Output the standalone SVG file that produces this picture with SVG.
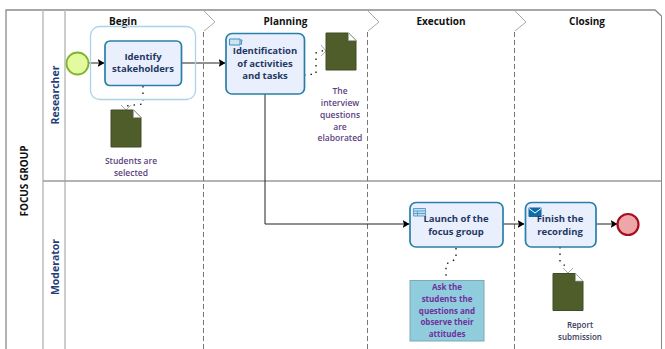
<svg xmlns="http://www.w3.org/2000/svg" width="665" height="349" viewBox="0 0 665 349">
<defs>
<marker id="arr" markerWidth="7" markerHeight="8" refX="6.5" refY="4" orient="auto" markerUnits="userSpaceOnUse"><path d="M0,0 L7,4 L0,8 L1.500,4 Z" fill="#000"/></marker>
<g id="doc"><path d="M0,0 H22.500 L30,7.500 V37 H0 Z" fill="#4f5d2a" stroke="#414d24" stroke-width="1"/><path d="M22.500,0 L30,7.500 H22.500 Z" fill="#fff" stroke="#aaa" stroke-width="0.7"/></g>
</defs>
<style>
text{font-family:"Open Sans","Noto Sans","DejaVu Sans",sans-serif;text-anchor:middle}
.task{fill:#e9effc;stroke:#2a7fa8;stroke-width:1.700}
.tt{font-size:9.500px;font-weight:700;fill:#1f3864}
.ph{font-size:10px;font-weight:700;fill:#111}
.lane{font-size:10.500px;font-weight:700;fill:#1f3f7a}
.note{font-size:8.500px;font-weight:600;fill:#5d3f80}
.ann{font-size:8px;font-weight:700;fill:#7030a0}
.rep{font-size:8px;font-weight:600;fill:#3c3c5a}
.grid{stroke:#bdbdbd;stroke-width:1.500;fill:none}
.flow{stroke:#222;stroke-width:1;fill:none;marker-end:url(#arr)}
.assoc{stroke:#111;stroke-width:1.300;fill:none;stroke-dasharray:1.500 5}
.phase{stroke:#777;stroke-width:1;fill:none;stroke-dasharray:5 3}
.chev{stroke:#aaa;stroke-width:1;fill:none}
</style>
<rect width="665" height="349" fill="#fff"/>
<g id="pool">
<path d="M6,349 V10 H655 L661.500,16" fill="none" stroke="#8a8a8a" stroke-width="1.300"/>
<path d="M43,10 V349 M65,10 V349" class="grid"/>
<path d="M43,181 H661" stroke="#9a9a9a" stroke-width="1.300"/>
<text transform="translate(28,181) rotate(-90)" font-size="10" font-weight="700" fill="#111">FOCUS GROUP</text>
<text class="lane" transform="translate(58.500,95) rotate(-90)">Researcher</text>
<text class="lane" transform="translate(58.500,267) rotate(-90)">Moderator</text>
</g>
<g id="phases">
<path class="chev" d="M203,10 L215,22 L204,31"/><path class="phase" d="M203.500,32 V349"/>
<path class="chev" d="M367,10 L379,22 L368,31"/><path class="phase" d="M367.500,32 V349"/>
<path class="chev" d="M514,10 L526,22 L515,31"/><path class="phase" d="M514.500,32 V349"/>
<path d="M661.500,16 V349" stroke="#888" stroke-width="1" fill="none"/>
<text class="ph" x="123" y="24.500">Begin</text>
<text class="ph" x="285.500" y="24.500">Planning</text>
<text class="ph" x="441" y="24.500">Execution</text>
<text class="ph" x="587" y="24.500">Closing</text>
</g>
<g id="connectors">
<path class="flow" d="M88.500,63 H104"/>
<path class="flow" d="M181.500,63 H225"/>
<path class="flow" d="M265,94 V224 H409"/>
<path class="flow" d="M503,224 H524"/>
<path class="flow" d="M596,224 H617"/>
<path class="assoc" d="M143,86 V104 L126,106"/>
<path class="chev" d="M121,105 L126,110 L131,105"/>
<path class="assoc" d="M304,75 L316,74 V53 L325,50"/>
<path class="chev" d="M321,45 L326,51 L321,56"/>
<path class="assoc" d="M456,248 V259 L446,264 V280"/>
<path class="assoc" d="M560,247 V262 L568,268"/>
<path class="chev" d="M563,268 L568,273 L573,268"/>
</g>
<g id="start"><circle cx="77.500" cy="63.500" r="11" fill="#e3fb9e" stroke="#7fb52a" stroke-width="1.800"/></g>
<g id="group-begin"><rect x="90.500" y="26.500" width="105" height="73" rx="9" fill="none" stroke="#a9d3e6" stroke-width="1.300"/></g>
<g id="task-identify"><rect class="task" x="105" y="41" width="76.500" height="44.500" rx="5"/>
<text class="tt" x="143" y="59.500">Identify</text><text class="tt" x="143" y="72">stakeholders</text></g>
<g id="doc-students"><use href="#doc" x="111" y="110"/>
<text class="note" x="131" y="164">Students are</text><text class="note" x="131" y="176">selected</text></g>
<g id="task-activities"><rect class="task" x="226" y="33.500" width="78.500" height="60.500" rx="6"/>
<path d="M229.500,39 H240 V45 H229.500 Z M240,40 H242 L241,45" fill="#cfe4f2" stroke="#3d8fc0" stroke-width="1"/>
<text class="tt" x="265" y="54">Identification</text><text class="tt" x="265" y="66.500">of activities</text><text class="tt" x="265" y="79">and tasks</text></g>
<g id="doc-interview"><use href="#doc" x="326" y="33"/>
<text class="note" x="340" y="94">The</text><text class="note" x="340" y="106">interview</text><text class="note" x="340" y="118">questions</text><text class="note" x="340" y="130">are</text><text class="note" x="340" y="141">elaborated</text></g>
<g id="task-launch"><rect class="task" x="410" y="202.500" width="93" height="44.500" rx="6"/>
<path d="M413.500,208.500 H425.500 V216 H413.500 Z M413.500,211 H425.500 M413.500,213.500 H425.500 M417.500,211 V216" fill="#c6dff0" stroke="#5ba2cc" stroke-width="1"/>
<text class="tt" x="456" y="221.500">Launch of the</text><text class="tt" x="456" y="234.500">focus group</text></g>
<g id="annotation"><rect x="410" y="280.500" width="74" height="60.500" fill="#8fccdc" stroke="#7fa9b5" stroke-width="1"/>
<text class="ann" x="447" y="290">Ask the</text><text class="ann" x="447" y="301.500">students the</text><text class="ann" x="447" y="313.500">questions and</text><text class="ann" x="447" y="325">observe their</text><text class="ann" x="447" y="336.500">attitudes</text></g>
<g id="task-finish"><rect class="task" x="525.500" y="202.500" width="70.500" height="44.500" rx="6"/>
<rect x="528.500" y="207.500" width="13" height="9.500" rx="1" fill="#0e6ba8"/><path d="M529,208.500 L535,213 L541,208.500" fill="none" stroke="#fff" stroke-width="1"/>
<text class="tt" x="560" y="221.500">Finish the</text><text class="tt" x="560" y="234.500">recording</text></g>
<g id="doc-report"><use href="#doc" x="553" y="273.500"/>
<text class="rep" x="580" y="328">Report</text><text class="rep" x="580" y="340">submission</text></g>
<g id="end"><circle cx="628" cy="224.500" r="10.500" fill="#eea6a9" stroke="#a50f1e" stroke-width="2.200"/></g>
</svg>
